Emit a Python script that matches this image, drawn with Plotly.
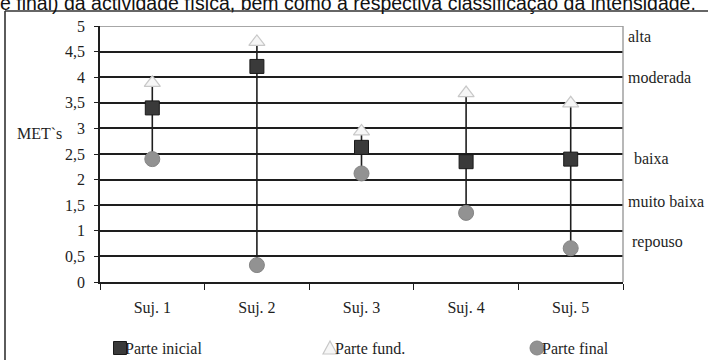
import plotly.graph_objects as go

# Sujeitos e valores de MET's em cada parte da sessão
sujeitos = ["Suj. 1", "Suj. 2", "Suj. 3", "Suj. 4", "Suj. 5"]
parte_inicial = [3.40, 4.21, 2.63, 2.35, 2.40]
parte_fund = [3.89, 4.69, 2.94, 3.69, 3.49]
parte_final = [2.40, 0.33, 2.12, 1.35, 0.66]

y_ticks = [0, 0.5, 1, 1.5, 2, 2.5, 3, 3.5, 4, 4.5, 5]
y_ticktext = ["0", "0,5", "1", "1,5", "2", "2,5", "3", "3,5", "4", "4,5", "5"]

# Classificação de intensidade (rótulos à direita)
classes = ["alta", "moderada", "baixa", "muito baixa", "repouso"]
classes_y = [4.80, 4.00, 2.42, 1.57, 0.79]
classes_dx = [3, 3, 9, 3, 7]

titulo = "e final) da actividade física, bem como a respectiva classificação da intensidade."

SERIF = "Liberation Serif, Times New Roman, serif"
SANS = "Liberation Sans, Arial, sans-serif"
INK = "#1e1e1e"

# geometria da área do gráfico (px)
W, H = 708, 360
ML, MR, MT, MB = 100, 85, 26, 78
PW, PH = W - ML - MR, H - MT - MB


def px_x(X):
    return (X - ML) / PW


def px_y(Y):
    return (H - MB - Y) / PH


SQ_STYLE = dict(color="#3a3a3a", line=dict(color="#1a1a1a", width=1))
TR_STYLE = dict(color="#f6f6f6", line=dict(color="#c8c8c8", width=1.2))
CI_STYLE = dict(color="#929292", line=dict(color="#858585", width=1))

fig = go.Figure()

# linhas máximo-mínimo de cada sujeito
hl_x, hl_y = [], []
for s, a, b, c in zip(sujeitos, parte_inicial, parte_fund, parte_final):
    vals = (a, b, c)
    hl_x += [s, s, None]
    hl_y += [max(vals), min(vals), None]
fig.add_trace(go.Scatter(x=hl_x, y=hl_y, mode="lines",
                         line=dict(color=INK, width=1.6),
                         showlegend=False, hoverinfo="skip"))

fig.add_trace(go.Scatter(x=sujeitos, y=parte_inicial, mode="markers", name="Parte inicial",
                         marker=dict(symbol="square", size=14, **SQ_STYLE)))
fig.add_trace(go.Scatter(x=sujeitos, y=parte_fund, mode="markers", name="Parte fund.",
                         marker=dict(symbol="triangle-up", size=14, **TR_STYLE)))
fig.add_trace(go.Scatter(x=sujeitos, y=parte_final, mode="markers", name="Parte final",
                         marker=dict(symbol="circle", size=15, **CI_STYLE)))

# limites do gráfico: linha superior e lado direito em cinzento
fig.add_shape(type="line", xref="paper", yref="y", x0=0, x1=1, y0=5, y1=5,
              line=dict(color="#8a8a8a", width=1.6), layer="above")
fig.add_shape(type="line", xref="paper", yref="y", x0=1, x1=1, y0=0, y1=5,
              line=dict(color="#9a9a9a", width=1.4), layer="above")

# moldura exterior
fx, fy = px_x(5), px_y(11)
fig.add_shape(type="line", xref="paper", yref="paper", x0=fx, x1=fx,
              y0=fy, y1=px_y(H + 5), line=dict(color="#333", width=1.6))
fig.add_shape(type="line", xref="paper", yref="paper", x0=fx, x1=px_x(W + 5),
              y0=fy, y1=fy, line=dict(color="#333", width=1.6))

# legenda
ly = px_y(348)
fig.add_shape(type="rect", xref="paper", yref="paper", xsizemode="pixel", ysizemode="pixel",
              xanchor=px_x(120), yanchor=ly, x0=-6.5, x1=6.5, y0=-6.5, y1=6.5,
              fillcolor=SQ_STYLE["color"], line=SQ_STYLE["line"])
fig.add_shape(type="path", xref="paper", yref="paper", xsizemode="pixel", ysizemode="pixel",
              xanchor=px_x(330), yanchor=ly, path="M -7,-6 L 7,-6 L 0,7 Z",
              fillcolor=TR_STYLE["color"], line=TR_STYLE["line"])
fig.add_shape(type="circle", xref="paper", yref="paper", xsizemode="pixel", ysizemode="pixel",
              xanchor=px_x(537), yanchor=ly, x0=-7, x1=7, y0=-7, y1=7,
              fillcolor=CI_STYLE["color"], line=CI_STYLE["line"])
for nome, X in zip(["Parte inicial", "Parte fund.", "Parte final"], [123, 333, 540]):
    fig.add_annotation(text=nome, xref="paper", yref="paper", x=px_x(X), y=ly,
                       xanchor="left", yanchor="middle", showarrow=False,
                       font=dict(family=SERIF, size=16, color=INK))

for txt, yv, dx in zip(classes, classes_y, classes_dx):
    fig.add_annotation(text=txt, xref="paper", yref="y", x=1, y=yv, xanchor="left",
                       yanchor="middle", xshift=dx, showarrow=False,
                       font=dict(family=SERIF, size=16, color=INK))

fig.add_annotation(text="MET`s", xref="paper", yref="y", x=px_x(15), y=2.91,
                   xanchor="left", yanchor="middle", showarrow=False,
                   font=dict(family=SERIF, size=16, color=INK))

fig.add_annotation(text=titulo, xref="paper", yref="paper", x=px_x(348), y=px_y(16.5),
                   xanchor="center", yanchor="bottom", showarrow=False,
                   font=dict(family=SANS, size=19.5, color="#111"))

fig.update_layout(
    width=W, height=H,
    margin=dict(l=ML, r=MR, t=MT, b=MB),
    paper_bgcolor="white", plot_bgcolor="white",
    font=dict(family=SERIF, size=16, color=INK),
    showlegend=False,
    xaxis=dict(type="category", categoryorder="array", categoryarray=sujeitos,
               range=[-0.5, 4.5], showgrid=False, zeroline=False,
               showline=True, linecolor=INK, linewidth=1.6,
               ticks="outside", tickson="boundaries", ticklen=6, tickwidth=1.4,
               tickcolor=INK, ticklabelstandoff=10,
               tickfont=dict(family=SERIF, size=16, color=INK)),
    yaxis=dict(range=[0, 5], tickvals=y_ticks, ticktext=y_ticktext,
               showgrid=True, gridcolor=INK, gridwidth=1.5, zeroline=False,
               showline=True, linecolor=INK, linewidth=1.6,
               ticks="outside", ticklen=4, tickwidth=1.4, tickcolor=INK,
               ticklabelstandoff=6,
               tickfont=dict(family=SERIF, size=16, color=INK)),
)

fig.write_html("out.html")
